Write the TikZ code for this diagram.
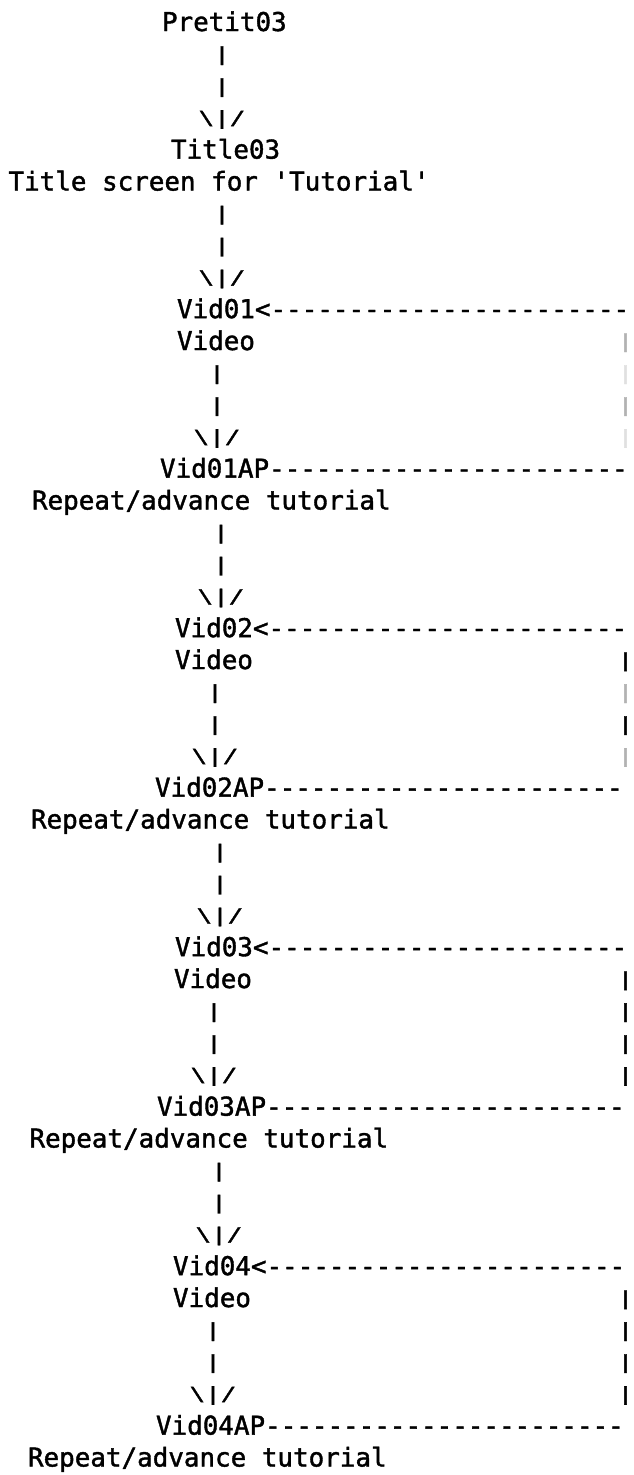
\documentclass[tikz,border=0pt]{standalone}
\usepackage{fontspec}
\setmonofont{DejaVu Sans Mono}[FakeBold=1.5]
\usepackage{graphicx}
\newcommand\vbglyph{\raisebox{2.3pt}{\scalebox{1}[0.72]{|}}}
\newcommand\arrglyph{\raisebox{2.3pt}{\scalebox{1}[0.72]{\textbackslash|/}}}
\newcommand\dashrun{-----------------------}
\begin{document}
\begin{tikzpicture}[x=1pt,y=1pt,
  every node/.style={font=\fontsize{25.9}{31.9}\selectfont\ttfamily, inner sep=0pt, outer sep=0pt},
  lbl/.style={anchor=base west},
  chr/.style={anchor=base},
  faint/.style={text=black!30},
  fainter/.style={text=black!12}]
\useasboundingbox (0,0) rectangle (634,-1475);
% x columns of the down connectors and of the right-hand return line
\coordinate (xa) at (222,0);
\coordinate (xb) at (222,0);
\coordinate (xc) at (217,0);
\coordinate (xd) at (221,0);
\coordinate (xe) at (215,0);
\coordinate (xf) at (220,0);
\coordinate (xg) at (214,0);
\coordinate (xh) at (219,0);
\coordinate (xi) at (213,0);
\coordinate (xr) at (625.5,0);
% labels (baseline of line n at -(31+31.9n))
\node[lbl] (pretit)   at (162,-31)     {Pretit03};
\node[lbl] (title03)  at (171,-158.6)  {Title03};
\node[lbl] (titledsc) at (8.5,-190.5)  {Title screen for 'Tutorial'};
\node[lbl] (vid01)    at (177,-318.1)  {Vid01};
\node[lbl] (video1)   at (177,-350)    {Video};
\node[lbl] (vid01ap)  at (160,-477.6)  {Vid01AP};
\node[lbl] (rep1)     at (32,-509.5)   {Repeat/advance tutorial};
\node[lbl] (vid02)    at (175,-637.1)  {Vid02};
\node[lbl] (video2)   at (175,-669)    {Video};
\node[lbl] (vid02ap)  at (155,-796.6)  {Vid02AP};
\node[lbl] (rep2)     at (31,-828.5)   {Repeat/advance tutorial};
\node[lbl] (vid03)    at (175,-956.1)  {Vid03};
\node[lbl] (video3)   at (174,-988)    {Video};
\node[lbl] (vid03ap)  at (157,-1115.6) {Vid03AP};
\node[lbl] (rep3)     at (29.5,-1147.5) {Repeat/advance tutorial};
\node[lbl] (vid04)    at (173,-1275.1) {Vid04};
\node[lbl] (video4)   at (173,-1307)   {Video};
\node[lbl] (vid04ap)  at (156,-1434.6) {Vid04AP};
\node[lbl] (rep4)     at (28,-1466.5)  {Repeat/advance tutorial};
% downward connectors
\path (pretit.base -| xa) -- (title03.base -| xa)
  node[chr,pos=.25]{\vbglyph} node[chr,pos=.5]{\vbglyph} node[chr,pos=.75]{\arrglyph};
\path (titledsc.base -| xb) -- (vid01.base -| xb)
  node[chr,pos=.25]{\vbglyph} node[chr,pos=.5]{\vbglyph} node[chr,pos=.75]{\arrglyph};
\path (video1.base -| xc) -- (vid01ap.base -| xc)
  node[chr,pos=.25]{\vbglyph} node[chr,pos=.5]{\vbglyph} node[chr,pos=.75]{\arrglyph};
\path (rep1.base -| xd) -- (vid02.base -| xd)
  node[chr,pos=.25]{\vbglyph} node[chr,pos=.5]{\vbglyph} node[chr,pos=.75]{\arrglyph};
\path (video2.base -| xe) -- (vid02ap.base -| xe)
  node[chr,pos=.25]{\vbglyph} node[chr,pos=.5]{\vbglyph} node[chr,pos=.75]{\arrglyph};
\path (rep2.base -| xf) -- (vid03.base -| xf)
  node[chr,pos=.25]{\vbglyph} node[chr,pos=.5]{\vbglyph} node[chr,pos=.75]{\arrglyph};
\path (video3.base -| xg) -- (vid03ap.base -| xg)
  node[chr,pos=.25]{\vbglyph} node[chr,pos=.5]{\vbglyph} node[chr,pos=.75]{\arrglyph};
\path (rep3.base -| xh) -- (vid04.base -| xh)
  node[chr,pos=.25]{\vbglyph} node[chr,pos=.5]{\vbglyph} node[chr,pos=.75]{\arrglyph};
\path (video4.base -| xi) -- (vid04ap.base -| xi)
  node[chr,pos=.25]{\vbglyph} node[chr,pos=.5]{\vbglyph} node[chr,pos=.75]{\arrglyph};
% return (repeat) connectors at the right edge
\path (vid01ap.base east) -- (vid01ap.base -| xr) node[lbl,pos=0]{\dashrun}
  -- (vid01.base -| xr)
  node[chr,fainter,pos=.2]{\vbglyph} node[chr,faint,pos=.4]{\vbglyph}
  node[chr,fainter,pos=.6]{\vbglyph} node[chr,faint,pos=.8]{\vbglyph}
  -- (vid01.base east) node[lbl,pos=1]{<\dashrun};
\path (vid02ap.base east) -- (vid02ap.base -| xr) node[lbl,pos=0]{\dashrun}
  -- (vid02.base -| xr)
  node[chr,faint,pos=.2]{\vbglyph} node[chr,pos=.4]{\vbglyph}
  node[chr,faint,pos=.6]{\vbglyph} node[chr,pos=.8]{\vbglyph}
  -- (vid02.base east) node[lbl,pos=1]{<\dashrun};
\path (vid03ap.base east) -- (vid03ap.base -| xr) node[lbl,pos=0]{\dashrun}
  -- (vid03.base -| xr)
  node[chr,pos=.2]{\vbglyph} node[chr,pos=.4]{\vbglyph}
  node[chr,pos=.6]{\vbglyph} node[chr,pos=.8]{\vbglyph}
  -- (vid03.base east) node[lbl,pos=1]{<\dashrun};
\path (vid04ap.base east) -- (vid04ap.base -| xr) node[lbl,pos=0]{\dashrun}
  -- (vid04.base -| xr)
  node[chr,pos=.2]{\vbglyph} node[chr,pos=.4]{\vbglyph}
  node[chr,pos=.6]{\vbglyph} node[chr,pos=.8]{\vbglyph}
  -- (vid04.base east) node[lbl,pos=1]{<\dashrun};
\end{tikzpicture}
\end{document}
